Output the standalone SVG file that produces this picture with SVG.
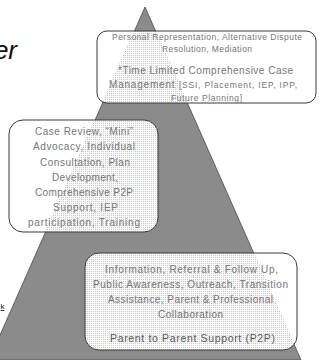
<svg xmlns="http://www.w3.org/2000/svg" width="329" height="360" viewBox="0 0 329 360">
<defs>
<pattern id="dots" width="2" height="2" patternUnits="userSpaceOnUse">
<path d="M0 0h2v2h-2z M1 1h1v1h-1z" fill="#ffffff" fill-rule="evenodd" fill-opacity="0.96"/>
<rect x="1" y="1" width="1" height="1" fill="#ffffff" fill-opacity="0.55"/>
</pattern>
<style>
.box{fill:url(#dots);stroke:#3a3a3a;stroke-width:1}
.t{font-family:"Liberation Sans",Arial,sans-serif;fill:#767676;text-anchor:middle}
.s{font-size:8.5px}
.m{font-size:10px}
</style>
</defs>
<rect width="329" height="360" fill="#ffffff"/>
<text x="17" y="59" font-family="Liberation Sans, Arial, sans-serif" font-size="26" font-style="italic" fill="#111" text-anchor="end">er</text>
<text x="4.5" y="309" font-family="Liberation Sans, Arial, sans-serif" font-size="8" fill="#111" text-anchor="end" text-decoration="underline">k</text>
<g id="pyramid">
<polygon points="145,7 -11,360 301,360" fill="#8b8b8b" stroke="#4a4a4a" stroke-width="0.8"/>
</g>
<g id="connectors"/>
<g id="node-top">
<rect class="box" x="97" y="31" width="219" height="72" rx="10"/>
<text class="t s" x="207" y="39.5" textLength="190" lengthAdjust="spacing">Personal Representation, Alternative Dispute</text>
<text class="t s" x="207" y="52" textLength="90" lengthAdjust="spacing">Resolution, Mediation</text>
<text class="t m" x="205.5" y="73.5" textLength="175" lengthAdjust="spacing">*Time Limited Comprehensive Case</text>
<text class="t" x="203" y="88" textLength="188" lengthAdjust="spacing"><tspan font-size="10">Management </tspan><tspan font-size="8.5">[SSI, Placement, IEP, IPP,</tspan></text>
<text class="t s" x="206.5" y="101" textLength="71" lengthAdjust="spacing">Future Planning]</text>
</g>
<g id="node-middle">
<rect class="box" x="9" y="120" width="149" height="112" rx="14"/>
<text class="t m" x="84" y="135" textLength="98" lengthAdjust="spacing">Case Review, “Mini”</text>
<text class="t m" x="84" y="150" textLength="102" lengthAdjust="spacing">Advocacy, Individual</text>
<text class="t m" x="85" y="165.5" textLength="90" lengthAdjust="spacing">Consultation, Plan</text>
<text class="t m" x="85" y="180.5" textLength="66" lengthAdjust="spacing">Development,</text>
<text class="t m" x="84" y="195.5" textLength="98" lengthAdjust="spacing">Comprehensive P2P</text>
<text class="t m" x="85.5" y="210.5" textLength="65" lengthAdjust="spacing">Support, IEP</text>
<text class="t m" x="84" y="226" textLength="112" lengthAdjust="spacing">participation, Training</text>
</g>
<g id="node-bottom">
<rect class="box" x="85" y="253" width="212" height="97" rx="14"/>
<text class="t m" x="191.5" y="272.5" textLength="173" lengthAdjust="spacing">Information, Referral &amp; Follow Up,</text>
<text class="t m" x="190.5" y="287.5" textLength="195" lengthAdjust="spacing">Public Awareness, Outreach, Transition</text>
<text class="t m" x="190.5" y="303" textLength="165" lengthAdjust="spacing">Assistance, Parent &amp; Professional</text>
<text class="t m" x="190.5" y="317.5" textLength="65" lengthAdjust="spacing">Collaboration</text>
<text class="t" x="192.5" y="341.5" font-size="10.5" style="fill:#5a5a5a" textLength="165" lengthAdjust="spacing">Parent to Parent Support (P2P)</text>
</g>
</svg>
